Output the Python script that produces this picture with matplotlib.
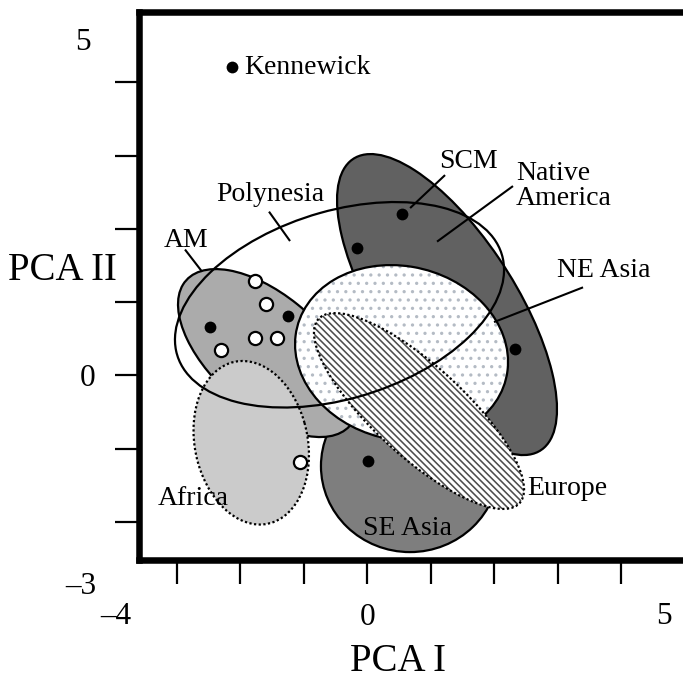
import numpy as np
import matplotlib
matplotlib.use("Agg")
import matplotlib.pyplot as plt
from matplotlib.patches import Ellipse

plt.rcParams['font.family'] = ['Liberation Serif', 'DejaVu Serif']
plt.rcParams['hatch.linewidth'] = 1.15

# ---- data (PCA I, PCA II) ----
# confidence ellipses: centre, half extent along x and y, correlation
ell_names = ["Native America", "SE Asia", "AM", "Africa", "NE Asia", "Europe", "Polynesia"]
ell_cx = [1.255, 0.672, -1.564, -1.828, 0.539, 0.814, -0.438]
ell_cy = [0.966, -1.238, 0.304, -0.920, 0.304, -0.487, 0.963]
ell_rx = [1.732, 1.402, 1.417, 0.909, 1.677, 1.654, 2.591]
ell_ry = [2.054, 1.174, 1.146, 1.116, 1.201, 1.337, 1.402]
ell_rho = [-0.694, 0.0, -0.58, -0.15, -0.10, -0.80, 0.34]

# individual specimens
black_x = [-2.131, 0.542, -0.162, 2.326, 0.011, -2.485, -1.249]
black_y = [4.202, 2.201, 1.737, 0.359, -1.175, 0.659, 0.815]
open_x = [-1.772, -1.600, -1.772, -1.422, -2.307, -1.066]
open_y = [1.287, 0.973, 0.509, 0.509, 0.352, -1.183]

# labels
lab_text = ["Kennewick", "SCM", "Native\nAmerica", "Polynesia", "AM", "NE Asia",
            "Europe", "SE Asia", "Africa"]
lab_x = [-1.942, 1.586, 2.343, -1.532, -2.855, 3.728, 2.515, 0.625, -2.745]
lab_y = [4.207, 2.916, 2.583, 2.474, 1.846, 1.437, -1.538, -2.084, -1.674]
lab_ha = ["left", "center", "left", "center", "center", "center", "left", "center", "center"]

# leader lines (x0, y0, x1, y1)
lead_x0 = [1.224, 2.294, -1.548, -2.871, 3.397]
lead_y0 = [2.733, 2.583, 2.234, 1.717, 1.201]
lead_x1 = [0.674, 1.098, -1.217, -2.603, 1.995]
lead_y1 = [2.283, 1.825, 1.833, 1.416, 0.727]

x_ticks = [-3, -2, -1, 0, 1, 2, 3, 4]
y_ticks = [-2, -1, 0, 1, 2, 3, 4]

# ---- figure ----
fig = plt.figure(figsize=(6.83, 6.91), dpi=100)
ax = fig.add_axes([0.2028, 0.1900, 0.8514, 0.7933])
ax.set_xlim(-3.603, 5.554)
ax.set_ylim(-2.516, 4.965)


def ellipse_params(i):
    c = ell_rho[i] * ell_rx[i] * ell_ry[i]
    cov = np.array([[ell_rx[i] ** 2, c], [c, ell_ry[i] ** 2]])
    vals, vecs = np.linalg.eigh(cov)
    major = vecs[:, 1]
    ang = np.degrees(np.arctan2(major[1], major[0]))
    return (ell_cx[i], ell_cy[i]), 2 * np.sqrt(vals[1]), 2 * np.sqrt(vals[0]), ang


styles = {
    "Native America": dict(fc="#616161", hatch=None, hc=None, ls="-", z=1),
    "SE Asia": dict(fc="#7e7e7e", hatch=None, hc=None, ls="-", z=2),
    "AM": dict(fc="#ababab", hatch=None, hc=None, ls="-", z=3),
    "Africa": dict(fc="#cbcbcb", hatch=None, hc=None, ls=(0, (1, 1.1)), z=4),
    "NE Asia": dict(fc="white", hatch="..", hc="#b4bbc4", ls="-", z=5),
    "Europe": dict(fc="white", hatch="\\\\\\\\\\", hc="#4d4d4d", ls=(0, (1, 1.1)), z=6),
    "Polynesia": dict(fc="none", hatch=None, hc=None, ls="-", z=7),
}

for i, name in enumerate(ell_names):
    st = styles[name]
    xy, w, h, ang = ellipse_params(i)
    if st["fc"] != "none":
        fill = Ellipse(xy, w, h, angle=ang, facecolor=st["fc"],
                       edgecolor=st["hc"] if st["hatch"] else "none",
                       hatch=st["hatch"], linewidth=0, zorder=st["z"])
        ax.add_patch(fill)
    edge = Ellipse(xy, w, h, angle=ang, facecolor="none", edgecolor="black",
                   linewidth=1.6, linestyle=st["ls"], zorder=st["z"] + 0.5)
    ax.add_patch(edge)

ax.scatter(black_x, black_y, s=72, c="black", zorder=10, linewidths=0)
ax.scatter(open_x, open_y, s=90, c="white", edgecolors="black", linewidths=1.6, zorder=10)

for t, x, y, ha in zip(lab_text, lab_x, lab_y, lab_ha):
    ax.text(x, y, t, ha=ha, va="center", fontsize=20, linespacing=1.0, zorder=12)

for x0, y0, x1, y1 in zip(lead_x0, lead_y0, lead_x1, lead_y1):
    ax.plot([x0, x1], [y0, y1], color="black", lw=1.5, zorder=11, solid_capstyle="butt")

# axes styling
for sp in ax.spines.values():
    sp.set_linewidth(4.7)
    sp.set_color("black")
ax.set_xticks(x_ticks)
ax.set_yticks(y_ticks)
ax.set_xticklabels(["0" if v == 0 else "" for v in x_ticks])
ax.set_yticklabels(["0" if v == 0 else "" for v in y_ticks])
ax.tick_params(direction="out", length=17, width=1.6, labelsize=22.5, pad=14,
               top=False, right=False)

ax.text(-0.0387, -0.1045, "\u20134", transform=ax.transAxes, ha="center", va="center", fontsize=22.5)
ax.text(0.9037, -0.1045, "5", transform=ax.transAxes, ha="center", va="center", fontsize=22.5)
ax.text(-0.0954, 0.944, "5", transform=ax.transAxes, ha="center", va="center", fontsize=22.5)
ax.text(-0.0989, -0.048, "\u20133", transform=ax.transAxes, ha="center", va="center", fontsize=22.5)
ax.text(-0.2244, 0.5285, "PCA II", transform=ax.transAxes, ha="left", va="center", fontsize=28)
ax.text(0.4468, -0.1866, "PCA I", transform=ax.transAxes, ha="center", va="center", fontsize=28)

fig.savefig("out.png", dpi=100)
